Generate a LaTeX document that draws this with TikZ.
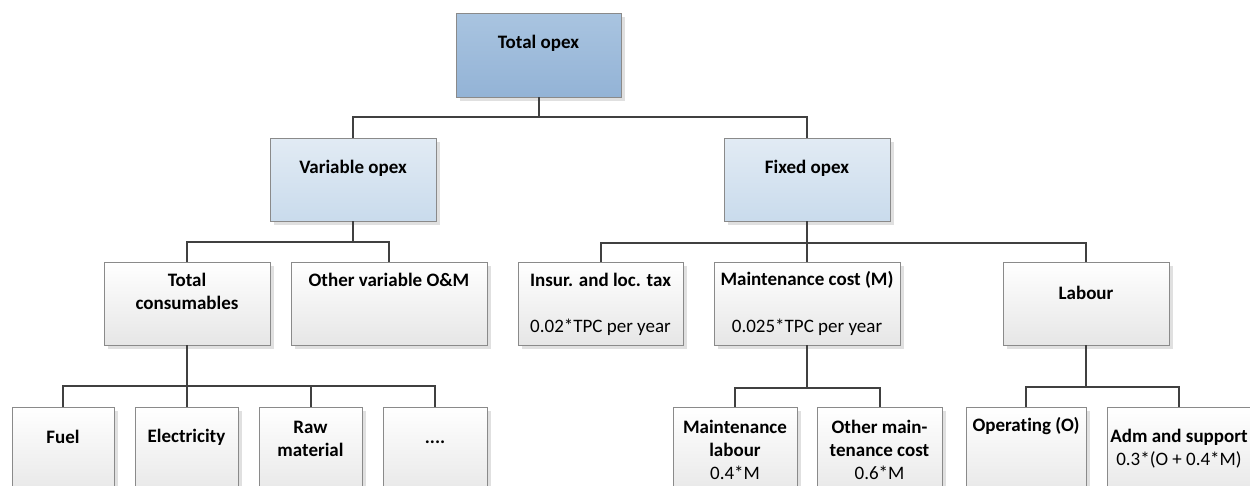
\documentclass[tikz,border=0pt]{standalone}
\usepackage{fontspec}
\setmainfont{Carlito}[Ligatures=NoCommon]
\usetikzlibrary{shadows}
\definecolor{boxline}{HTML}{8A8A8A}
\definecolor{connc}{HTML}{404040}
\definecolor{topA}{HTML}{A9C4E0}
\definecolor{topB}{HTML}{93B3D6}
\definecolor{blueA}{HTML}{E2EBF4}
\definecolor{blueB}{HTML}{C9DBEC}
\definecolor{greyB}{HTML}{E6E6E6}
\begin{document}
\begin{tikzpicture}[x=1pt,y=-1pt,
 box/.style={draw=boxline, line width=0.9pt, inner sep=0pt,
   general shadow={shadow xshift=3.5pt, shadow yshift=-3.5pt, fill=black!12}},
 topbox/.style={box, top color=topA, bottom color=topB},
 bluebox/.style={box, top color=blueA, bottom color=blueB},
 greybox/.style={box, top color=white, bottom color=greyB},
 conn/.style={draw=connc, line width=2pt},
 lbl/.style={font=\fontsize{19}{23}\selectfont\bfseries, align=center, inner sep=0pt},
 val/.style={font=\fontsize{19}{23}\selectfont, align=center, inner sep=0pt}]
\useasboundingbox (0,0) rectangle (1250,485);
\clip (0,0) rectangle (1250,485);
\fill[white] (0,0) rectangle (1250,485);

% level 0
\node[topbox, minimum width=165pt, minimum height=84pt] (top) at (538.5,55) {};
% level 1
\node[bluebox, minimum width=166pt, minimum height=83pt] (var) at (353,179.5) {};
\node[bluebox, minimum width=166pt, minimum height=83pt] (fix) at (807,179.5) {};
% level 2
\node[greybox, minimum width=166pt, minimum height=83pt] (tc) at (187,303.5) {};
\node[greybox, minimum width=196pt, minimum height=83pt] (ov) at (389,303.5) {};
\node[greybox, minimum width=165pt, minimum height=83pt] (ins) at (600.5,303.5) {};
\node[greybox, minimum width=186pt, minimum height=83pt] (mc) at (807,303.5) {};
\node[greybox, minimum width=166pt, minimum height=83pt] (lab) at (1086,303.5) {};
% level 3
\node[greybox, minimum width=102pt, minimum height=93pt] (fuel) at (63,453.5) {};
\node[greybox, minimum width=103pt, minimum height=93pt] (elec) at (186.5,453.5) {};
\node[greybox, minimum width=103pt, minimum height=93pt] (raw) at (310.5,453.5) {};
\node[greybox, minimum width=104pt, minimum height=93pt] (dots) at (435,453.5) {};
\node[greybox, minimum width=124pt, minimum height=93pt] (ml) at (735,454) {};
\node[greybox, minimum width=125pt, minimum height=93pt] (om) at (879.5,454) {};
\node[greybox, minimum width=120pt, minimum height=93pt] (op) at (1026,454) {};
\node[greybox, minimum width=144pt, minimum height=93pt] (adm) at (1179,454) {};

% texts
\node[lbl] (ttop) at (538.5,43) {Total opex};
\node[lbl] (tvar) at (353,168) {Variable opex};
\node[lbl] (tfix) at (807,168) {Fixed opex};
\node[lbl] (ttc) at (187,291.5) {Total\\consumables};
\node[lbl] (tov) at (389,280) {Other variable O\&M};
\node[lbl] (tins) at (600.5,280) {Insur. and loc. tax};
\node[val] (vins) at (600.5,327) {0.02*TPC per year};
\node[lbl] (tmc) at (807,280) {Maintenance cost (M)};
\node[val] (vmc) at (807,327) {0.025*TPC per year};
\node[lbl] (tlab) at (1086,293) {Labour};
\node[lbl] (tfuel) at (63,437) {Fuel};
\node[lbl] (telec) at (186.5,437) {Electricity};
\node[lbl] (traw) at (310.5,438.5) {Raw\\material};
\node[lbl] (tdots) at (435,442) {....};
\node[val] (tml) at (735,449.5) {\bfseries Maintenance\\\bfseries labour\\0.4*M};
\node[val] (tom) at (879.5,450) {\bfseries Other main-\\\bfseries tenance cost\\0.6*M};
\node[lbl] (top2) at (1026,426) {Operating (O)};
\node[val] (tadm) at (1179,448.5) {\bfseries Adm and support\\0.3*(O + 0.4*M)};

% connectors
\draw[conn] (top.south) -- ++(0,20) -| (var.north);
\draw[conn] (top.south) -- ++(0,20) -| (fix.north);
\draw[conn] (var.south) -- ++(0,21) -| (tc.north);
\draw[conn] (var.south) -- ++(0,21) -| (ov.north);
\draw[conn] (fix.south) -- ++(0,22) -| (ins.north);
\draw[conn] (fix.south) -- ++(0,22) -| (mc.north);
\draw[conn] (fix.south) -- ++(0,22) -| (lab.north);
\draw[conn] (tc.south) -- ++(0,41) -| (fuel.north);
\draw[conn] (tc.south) -- ++(0,41) -| (elec.north);
\draw[conn] (tc.south) -- ++(0,41) -| (raw.north);
\draw[conn] (tc.south) -- ++(0,41) -| (dots.north);
\draw[conn] (mc.south) -- ++(0,43) -| (ml.north);
\draw[conn] (mc.south) -- ++(0,43) -| (om.north);
\draw[conn] (lab.south) -- ++(0,42) -| (op.north);
\draw[conn] (lab.south) -- ++(0,42) -| (adm.north);
\end{tikzpicture}
\end{document}
